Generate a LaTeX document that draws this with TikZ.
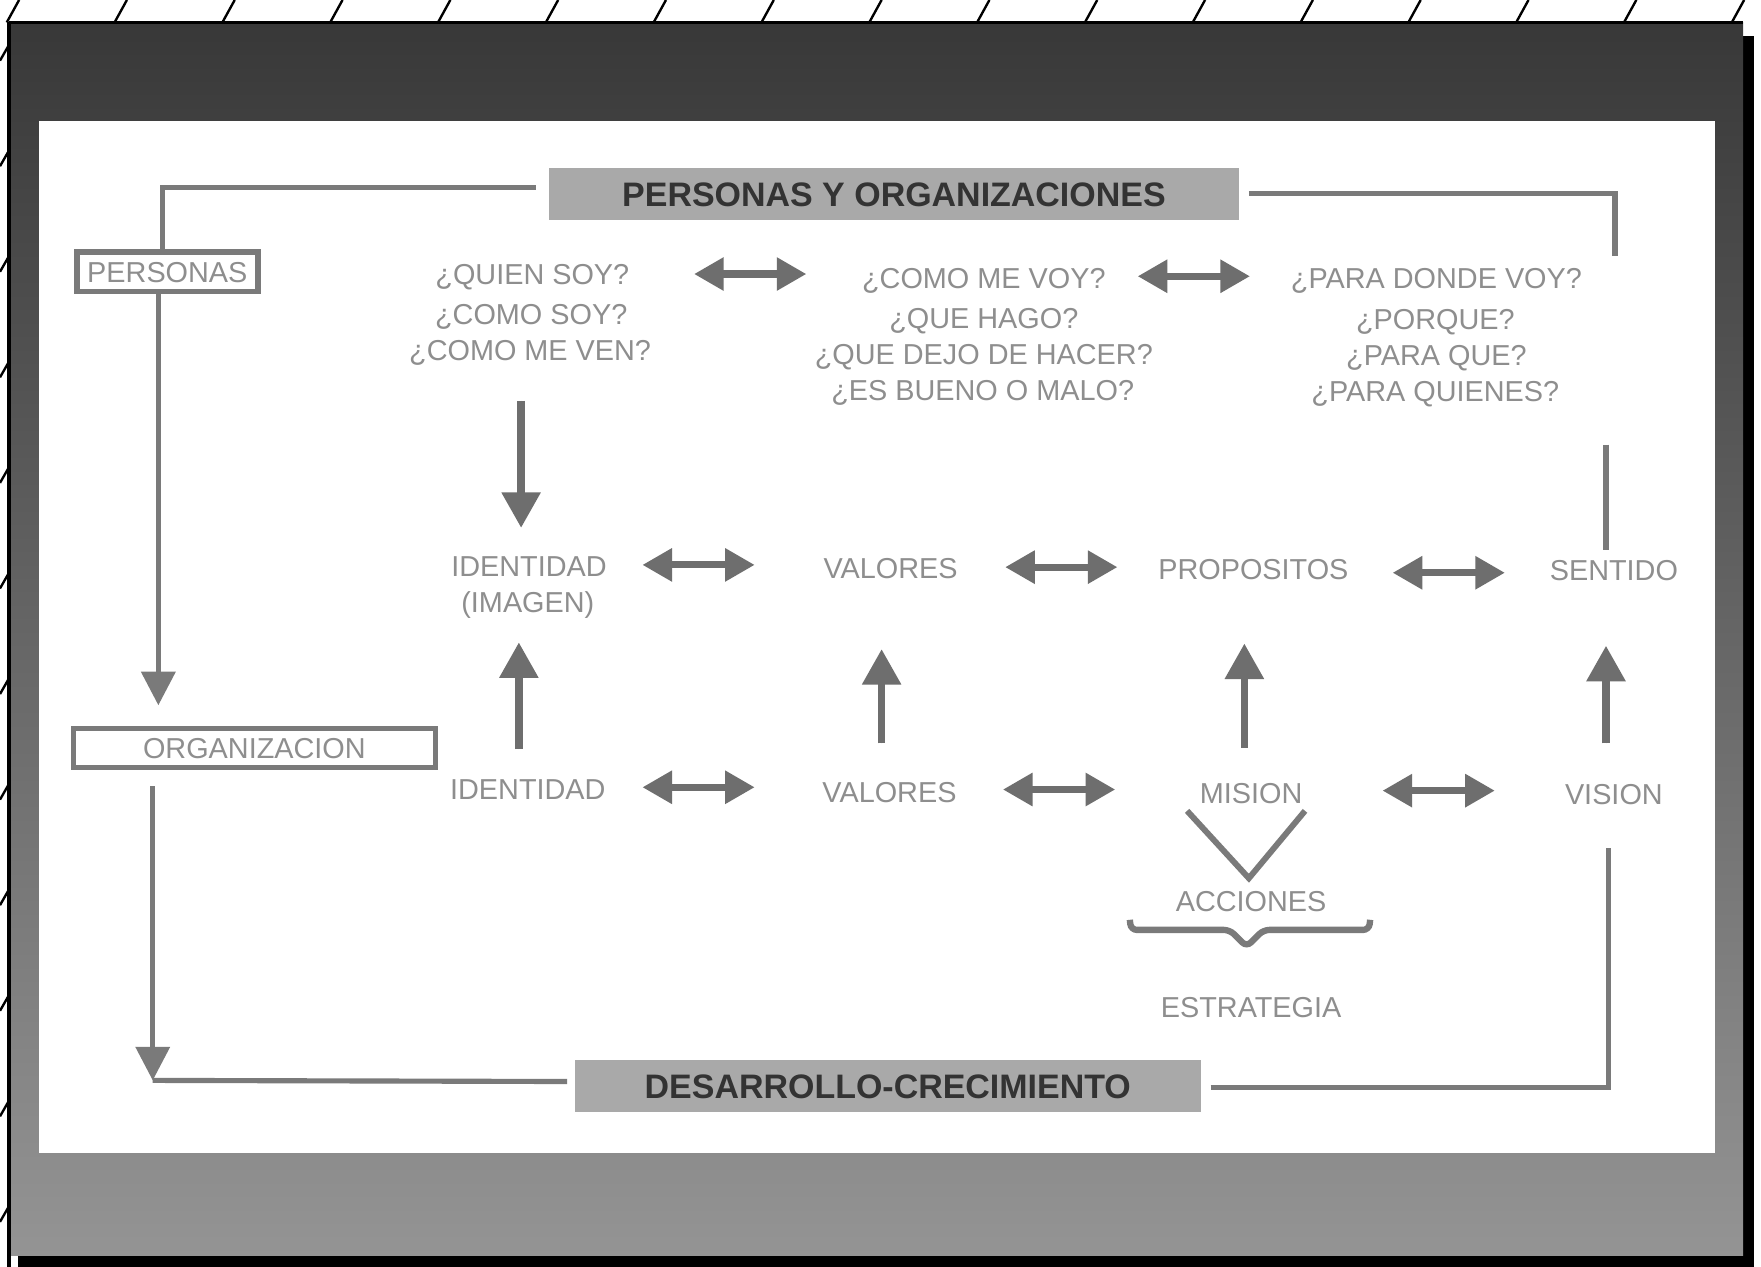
\documentclass[tikz,border=0pt]{standalone}
\usepackage{fontspec}
\setmainfont{Liberation Sans}
\usetikzlibrary{arrows.meta}
\definecolor{txtgray}{HTML}{8E8E8E}
\definecolor{lngray}{HTML}{7A7A7A}
\definecolor{arrgray}{HTML}{6E6E6E}
\definecolor{boxgray}{HTML}{A9A9A9}
\definecolor{titletxt}{HTML}{333333}
\begin{document}
\begin{tikzpicture}[x=0.01cm,y=-0.01cm,
  lbl/.style={text=txtgray, font=\fontsize{7.3}{9}\selectfont, inner sep=0pt, text height=5.3pt, text depth=0pt},
  ttl/.style={fill=boxgray, text=titletxt, font=\bfseries\fontsize{8.6}{10}\selectfont, inner sep=0pt, text height=6.2pt, text depth=0pt},
  wbox/.style={draw=lngray, line width=1.4pt, fill=white, text=txtgray, font=\fontsize{7.3}{9}\selectfont, inner sep=0pt, text height=5.3pt, text depth=0pt},
  conn/.style={draw=lngray, line width=1.3pt},
  dbl/.style={{Triangle[width=8pt,length=7.5pt]}-{Triangle[width=8pt,length=7.5pt]}, line width=1.8pt, draw=arrgray, fill=arrgray},
  vup/.style={-{Triangle[width=9.5pt,length=9pt]}, line width=1.9pt, draw=arrgray, fill=arrgray},
  lng/.style={-{Triangle[width=8.5pt,length=8.5pt]}, line width=1.3pt, draw=lngray, fill=lngray},
  tick/.style={draw=black, line width=0.6pt}]
\useasboundingbox (0,0) rectangle (1568,1128);
% frame with shadow
\fill[black] (16,32) rectangle (1562,1128);
\shade[top color=black!78, bottom color=black!42] (8,20) rectangle (1552,1118);
\fill[white] (35,108) rectangle (1527,1027);
\draw[black, line width=0.8pt] (8,20) -- (8,1128);
\draw[black, line width=0.6pt] (8,20) -- (1552,20);
% hatch ticks
\foreach \i in {0,...,16} { \draw[tick] (12+96*\i-6,20) -- (12+96*\i+5,0); }
\foreach \i in {0,...,11} { \draw[tick] (8,40+94*\i) -- (0,54+94*\i); }

% title boxes
\node[ttl, minimum width=6.14cm, minimum height=0.46cm] (po) at (796,173) {PERSONAS Y ORGANIZACIONES};
\node[ttl, minimum width=5.57cm, minimum height=0.46cm] (dc) at (790.5,967) {DESARROLLO-CRECIMIENTO};
\node[wbox, minimum width=1.61cm, minimum height=0.35cm] (per) at (149,242) {PERSONAS};
\node[wbox, minimum width=3.22cm, minimum height=0.35cm] (org) at (226.5,666) {ORGANIZACION};

% question columns
\node[lbl] (q1a) at (474,244) {¿QUIEN SOY?};
\node[lbl] (q1b) at (473,280) {¿COMO SOY?};
\node[lbl] (q1c) at (472,312) {¿COMO ME VEN?};
\node[lbl] (q2a) at (876,248) {¿COMO ME VOY?};
\node[lbl] (q2b) at (876,283) {¿QUE HAGO?};
\node[lbl] (q2c) at (876,315) {¿QUE DEJO DE HACER?};
\node[lbl] (q2d) at (875,347) {¿ES BUENO O MALO?};
\node[lbl] (q3a) at (1279,248) {¿PARA DONDE VOY?};
\node[lbl] (q3b) at (1278,284) {¿PORQUE?};
\node[lbl] (q3c) at (1279,316) {¿PARA QUE?};
\node[lbl] (q3d) at (1278,348) {¿PARA QUIENES?};

% row 2
\node[lbl] (id2) at (471,504) {IDENTIDAD};
\node[lbl] (img) at (470,536) {(IMAGEN)};
\node[lbl] (val2) at (793,506) {VALORES};
\node[lbl] (pro) at (1116,507) {PROPOSITOS};
\node[lbl] (sen) at (1437,508) {SENTIDO};
% row 3
\node[lbl] (id3) at (470,703) {IDENTIDAD};
\node[lbl] (val3) at (792,705) {VALORES};
\node[lbl] (mis) at (1114,706) {MISION};
\node[lbl] (vis) at (1437,707) {VISION};
\node[lbl] (acc) at (1114,802) {ACCIONES};
\node[lbl] (est) at (1114,897) {ESTRATEGIA};

% double arrows
\coordinate (a1l) at (618,244); \coordinate (a1r) at (718,244);
\coordinate (a2l) at (1013,246); \coordinate (a2r) at (1113,246);
\coordinate (b1l) at (572,503); \coordinate (b1r) at (672,503);
\coordinate (b2l) at (895,505); \coordinate (b2r) at (995,505);
\coordinate (b3l) at (1240,510); \coordinate (b3r) at (1340,510);
\coordinate (c1l) at (572,701); \coordinate (c1r) at (672,701);
\coordinate (c2l) at (893,703); \coordinate (c2r) at (993,703);
\coordinate (c3l) at (1231,704); \coordinate (c3r) at (1331,704);
\foreach \p in {a1,a2,b1,b2,b3,c1,c2,c3} { \draw[dbl] (\p l) -- (\p r); }

% vertical arrows
\coordinate (d1t) at (464,357); \coordinate (d1b) at (464,470);
\draw[vup] (d1t) -- (d1b);
\coordinate (u1b) at (462,667); \coordinate (u1t) at (462,572);
\coordinate (u2b) at (785,662); \coordinate (u2t) at (785,578);
\coordinate (u3b) at (1108,666); \coordinate (u3t) at (1108,573);
\coordinate (u4b) at (1430,662); \coordinate (u4t) at (1430,575);
\foreach \p in {u1,u2,u3,u4} { \draw[vup] (\p b) -- (\p t); }

% V shape and brace
\coordinate (vl) at (1057,722); \coordinate (vm) at (1112,782); \coordinate (vr) at (1162,722);
\draw[conn, line width=1.5pt, line join=miter] (vl) -- (vm) -- (vr);
\coordinate (br1) at (1006,819); \coordinate (br2) at (1220,819);
\draw[conn, line width=1.6pt, rounded corners=1.5pt] (br1) -- (1007,828) -- (1095,828) -- (1110,843) -- (1125,828) -- (1219,828) -- (br2);

% frame connectors
\coordinate (tl1) at (477,167); \coordinate (tl2) at (145,167);
\draw[conn] (tl1) -- (tl2) -- (tl2 |- per.north);
\coordinate (pa) at (141,628);
\draw[lng] (per.south -| pa) -- (pa);
\coordinate (oa) at (136,962);
\draw[lng] ([yshift=-0.14cm]org.south -| oa) -- (oa);
\coordinate (bl2) at (505,963);
\draw[conn] (oa) -- (bl2);
\coordinate (br1c) at (1078,968); \coordinate (br2c) at (1432,968); \coordinate (br3c) at (1432,755);
\draw[conn] (br1c) -- (br2c) -- (br3c);
\coordinate (tr1) at (1112,172); \coordinate (tr2) at (1438,172); \coordinate (tr3) at (1438,228);
\draw[conn] (tr1) -- (tr2) -- (tr3);
\coordinate (rm1) at (1430,396); \coordinate (rm2) at (1430,490);
\draw[conn] (rm1) -- (rm2);
\end{tikzpicture}
\end{document}
